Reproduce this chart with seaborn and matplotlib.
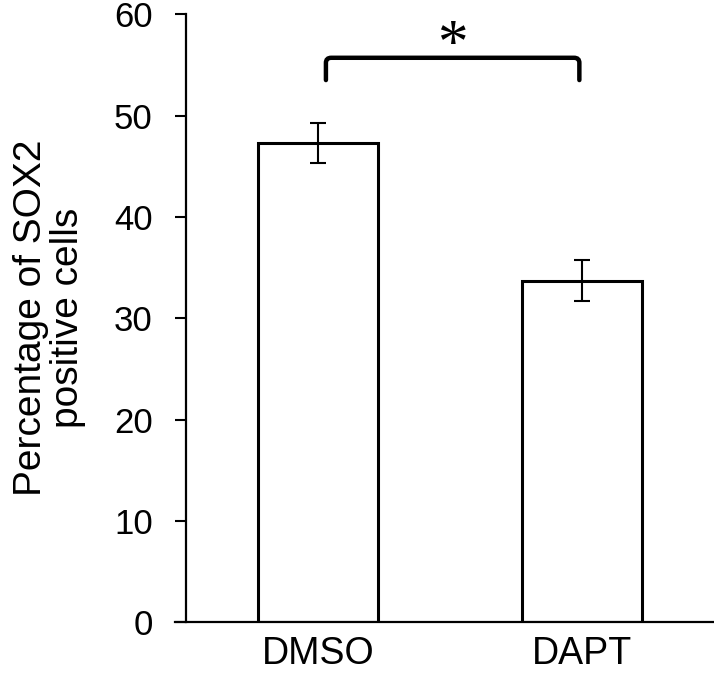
import matplotlib
matplotlib.use("Agg")
import matplotlib.pyplot as plt
import seaborn as sns
import pandas as pd
import numpy as np
from matplotlib.path import Path
from matplotlib.patches import PathPatch

categories = ["DMSO", "DAPT"]
values = [47.3, 33.7]
errors = [2.0, 2.0]
yticks = [0, 10, 20, 30, 40, 50, 60]
ylabel = "Percentage of SOX2\npositive cells"
sig_label = "*"
bracket_top = 55.7
bracket_drop = 2.2

sns.set_theme(style="white")
plt.rcParams["font.family"] = ["Liberation Sans", "DejaVu Sans"]
plt.rcParams.update({"text.color": "black", "axes.labelcolor": "black",
                     "xtick.color": "black", "ytick.color": "black"})

df = pd.DataFrame({"group": categories, "pct": values})

fig = plt.figure(figsize=(7.14, 6.77), dpi=100)
ax = fig.add_axes([0.2605, 0.081, 0.7395, 0.898])

sns.barplot(data=df, x="group", y="pct", color="white", saturation=1,
            edgecolor="black", linewidth=2.2, width=0.4545, errorbar=None, ax=ax)

xpos = np.arange(len(categories))
ax.errorbar(xpos, values, yerr=errors, fmt="none", ecolor="black",
            elinewidth=1.5, capsize=5.5, capthick=1.5)

ax.set_xlim(-0.5, 1.5)
ax.set_ylim(0, 60)
ax.set_yticks(yticks)
ax.set_yticklabels([str(t) for t in yticks], fontsize=25)
ax.tick_params(axis="y", direction="out", length=8, width=1.5, pad=16, left=True)
ax.tick_params(axis="x", length=0, labelsize=27, pad=10)
ax.set_xlabel("")
ax.set_ylabel(ylabel, fontsize=28, labelpad=20, linespacing=1.05)

for s in ["top", "right"]:
    ax.spines[s].set_visible(False)
for s in ["left", "bottom"]:
    ax.spines[s].set_color("black")
    ax.spines[s].set_linewidth(1.6)
ax.spines["bottom"].set_bounds(-0.54, 1.5)

# significance bracket with rounded corners
x0, x1 = xpos[0] + 0.03, xpos[1] - 0.01
yt = bracket_top
yb = bracket_top - bracket_drop
rx, ry = 0.02, 0.5
verts = [(x0, yb), (x0, yt - ry), (x0, yt), (x0 + rx, yt),
         (x1 - rx, yt), (x1, yt), (x1, yt - ry), (x1, yb)]
codes = [Path.MOVETO, Path.LINETO, Path.CURVE3, Path.CURVE3,
         Path.LINETO, Path.CURVE3, Path.CURVE3, Path.LINETO]
ax.add_patch(PathPatch(Path(verts, codes), facecolor="none", edgecolor="black",
                       linewidth=3.2, capstyle="round", clip_on=False))
ax.text((x0 + x1) / 2, yt - 0.3, sig_label, ha="center", va="baseline",
        fontsize=44, color="black", family=["Liberation Serif", "DejaVu Serif"])

fig.savefig("out.png", dpi=100)
